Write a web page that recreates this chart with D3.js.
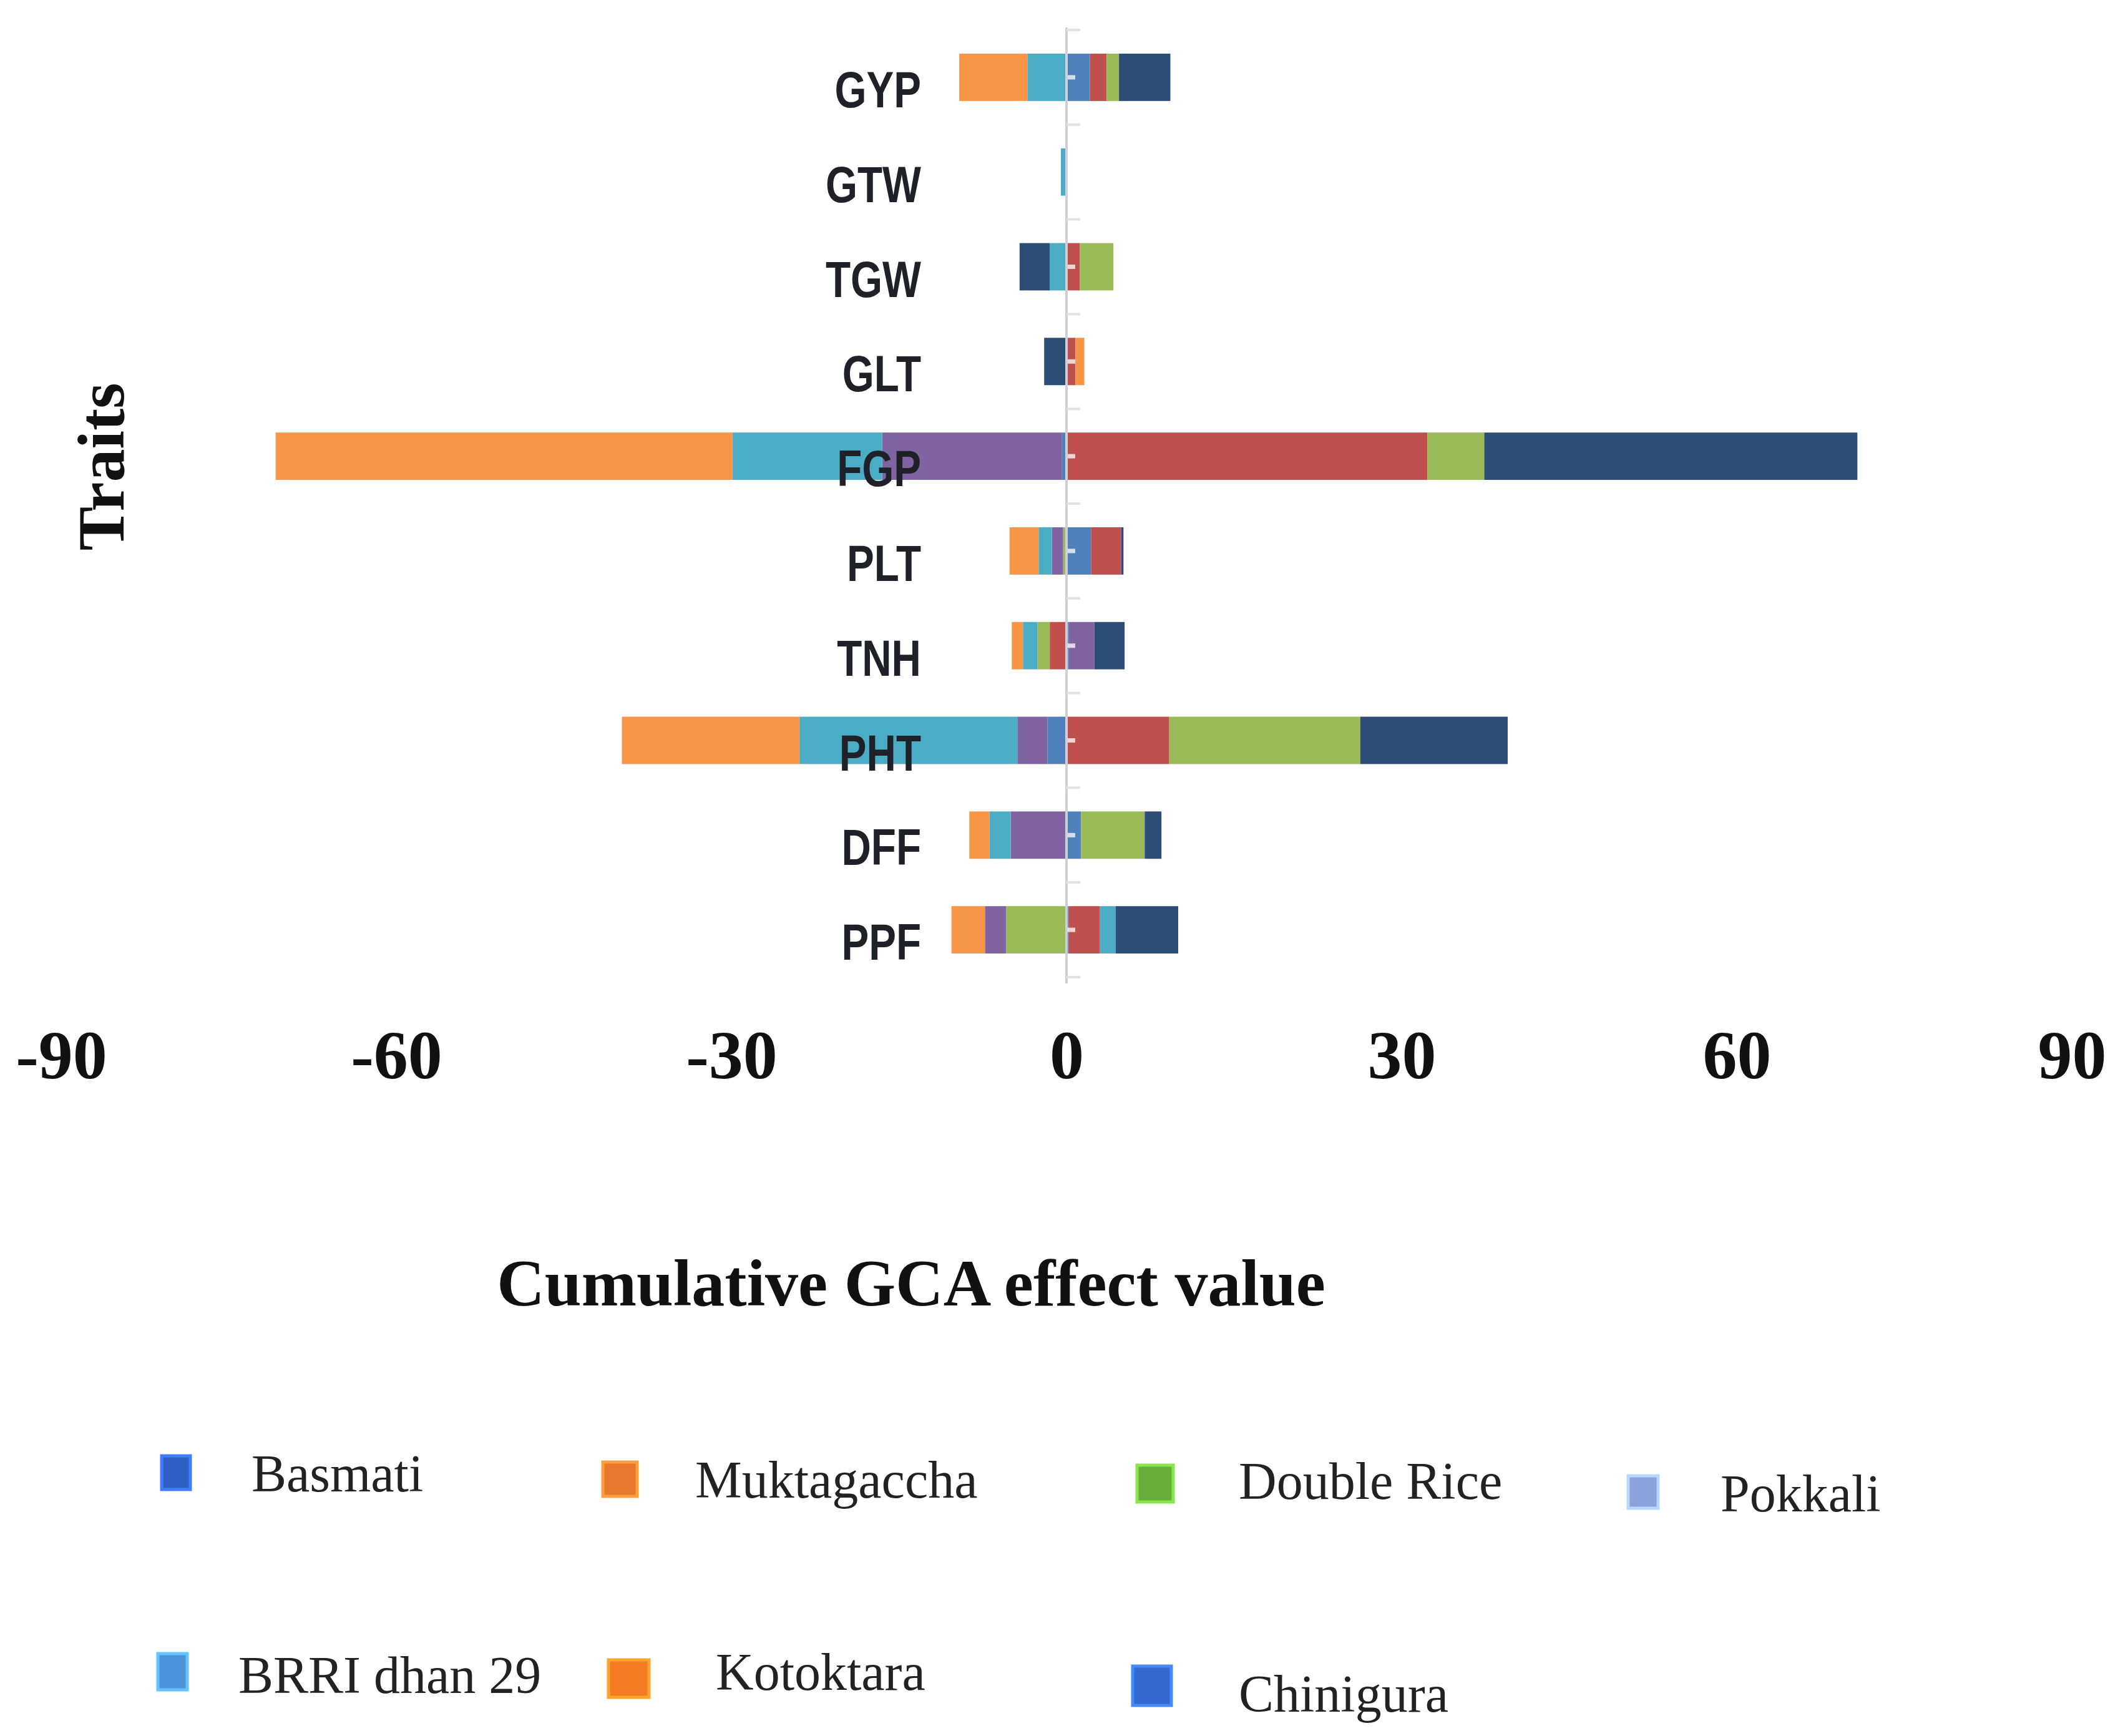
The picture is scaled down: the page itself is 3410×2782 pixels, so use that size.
<!DOCTYPE html>
<html>
<head>
<meta charset="utf-8">
<script src="https://cdn.jsdelivr.net/npm/d3@7/dist/d3.min.js"></script>
<style>
  html, body { margin: 0; padding: 0; background: #ffffff; }
  svg { display: block; }
</style>
</head>
<body>
<svg id="chart" width="3410" height="2782"></svg>
<script>
// ---------------- DATA ----------------
const traits = ["GYP", "GTW", "TGW", "GLT", "FGP", "PLT", "TNH", "PHT", "DFF", "PPF"];
const seriesNames = ["Basmati", "Muktagaccha", "Double Rice", "Pokkali", "BRRI dhan 29", "Kotoktara", "Chinigura"];
//                 GYP   GTW   TGW   GLT   FGP    PLT   TNH   PHT    DFF   PPF
const basmati     = [2.1,  0,    0,    0,    -0.4,  2.2,  0.2,  -1.7,  1.3,  0.2];
const muktagaccha = [1.5,  0,    1.2,  0.8,  32.3,  2.7,  -1.5, 9.2,   0,    2.8];
const doubleRice  = [1.1,  0,    3.0,  0,    5.1,   -0.3, -1.1, 17.1,  5.7,  -5.4];
const pokkali     = [0,    0,    0,    0,    -16.1, -1.0, 2.3,  -2.7,  -5.0, -1.9];
const brriDhan29  = [-3.5, -0.5, -1.5, 0,    -13.4, -1.2, -1.3, -19.5, -1.9, 1.4];
const kotoktara   = [-6.1, 0,    0,    0.8,  -40.9, -2.6, -1.0, -15.9, -1.8, -3.0];
const chinigura   = [4.6,  0,    -2.7, -2.0, 33.4,  0.2,  2.7,  13.2,  1.5,  5.6];
const xTicks = [-90, -60, -30, 0, 30, 60, 90];

// ---------------- STYLE ----------------
const barColors    = ["#4F81BD", "#C0504D", "#9BBB59", "#8064A2", "#4BACC6", "#F79646", "#2C4D75"];
const legendColors = ["#2F5FC4", "#E8772E", "#66AD3A", "#8CA2DC", "#4C93DA", "#F47B22", "#3468CC"];
// legend layout (marker box + label anchor), as in the reference picture
const legendLayout = [
  {mx: 259,  my: 2333, mw: 46, mh: 54, tx: 403,  ty: 2390},
  {mx: 966,  my: 2343, mw: 55, mh: 55, tx: 1114, ty: 2400},
  {mx: 1822, my: 2348, mw: 58, mh: 59, tx: 1985, ty: 2402},
  {mx: 2609, my: 2365, mw: 48, mh: 52, tx: 2757, ty: 2422},
  {mx: 253,  my: 2650, mw: 47, mh: 58, tx: 382,  ty: 2713},
  {mx: 975,  my: 2660, mw: 65, mh: 60, tx: 1147, ty: 2708},
  {mx: 1815, my: 2670, mw: 62, mh: 63, tx: 1985, ty: 2743}
];

// ---------------- BUILD ----------------
const seriesValues = [basmati, muktagaccha, doubleRice, pokkali, brriDhan29, kotoktara, chinigura];
const table = traits.map((t, i) => {
  const row = {trait: t};
  seriesNames.forEach((s, j) => row[s] = seriesValues[j][i]);
  return row;
});

const svg = d3.select("#chart");
svg.append("rect").attr("width", 3410).attr("height", 2782).attr("fill", "#ffffff");

const x = d3.scaleLinear().domain([-90, 90]).range([98, 3320]);
const y = d3.scaleBand().domain(traits).range([48, 1566]).paddingInner(0.5).paddingOuter(0.25);

const stack = d3.stack().keys(seriesNames).order(d3.stackOrderNone).offset(d3.stackOffsetDiverging);
const stacked = stack(table);

// bars
const g = svg.append("g");
g.selectAll("g.series").data(stacked).join("g")
  .attr("class", "series")
  .attr("fill", (d, i) => barColors[i])
  .selectAll("rect").data(d => d).join("rect")
  .attr("x", d => x(Math.min(d[0], d[1])))
  .attr("width", d => Math.abs(x(d[1]) - x(d[0])))
  .attr("y", d => y(d.data.trait))
  .attr("height", y.bandwidth());

// vertical zero axis line with category ticks
const x0 = x(0);
const axisG = svg.append("g");
axisG.append("line")
  .attr("x1", x0).attr("x2", x0)
  .attr("y1", 44).attr("y2", 1576)
  .attr("stroke", "#CFCFD6").attr("stroke-width", 4);
const boundaries = traits.slice(1).map(t => y(t) - (y.step() - y.bandwidth()) / 2);
boundaries.push(48, 1566);
axisG.selectAll("line.tick").data(boundaries).join("line")
  .attr("class", "tick")
  .attr("x1", x0).attr("x2", x0 + 22)
  .attr("y1", d => d).attr("y2", d => d)
  .attr("stroke", "#E2E2E6").attr("stroke-width", 4);
axisG.selectAll("line.ctick").data(traits).join("line")
  .attr("class", "ctick")
  .attr("x1", x0 + 2).attr("x2", x0 + 14)
  .attr("y1", d => y(d) + y.bandwidth() / 2).attr("y2", d => y(d) + y.bandwidth() / 2)
  .attr("stroke", "rgba(255,255,255,0.75)").attr("stroke-width", 7);

// category labels (bold, condensed)
svg.append("g").selectAll("text").data(traits).join("text")
  .attr("transform", d => `translate(1476,${y(d) + y.bandwidth() / 2 + 48}) scale(0.8,1)`)
  .attr("text-anchor", "end")
  .attr("font-family", "'Liberation Sans', Arial, sans-serif")
  .attr("font-weight", "bold")
  .attr("font-size", 82)
  .attr("fill", "#1E2228")
  .text(d => d);

// x tick labels
const xAxis = d3.axisBottom(x).tickValues(xTicks).tickSize(0).tickFormat(d3.format("d"));
const xg = svg.append("g").attr("transform", "translate(0,0)").call(xAxis);
xg.select(".domain").remove();
xg.selectAll("text")
  .attr("y", 1728).attr("dy", 0)
  .attr("font-family", "'Liberation Serif', 'Times New Roman', serif")
  .attr("font-weight", "bold")
  .attr("font-size", 110)
  .attr("fill", "#111111")
  .text(d => d < 0 ? "-" + Math.abs(d) : String(d));

// axis titles
svg.append("text")
  .attr("x", 1460).attr("y", 2092)
  .attr("text-anchor", "middle")
  .attr("font-family", "'Liberation Serif', 'Times New Roman', serif")
  .attr("font-weight", "bold")
  .attr("font-size", 106)
  .attr("fill", "#111111")
  .text("Cumulative GCA effect value");

svg.append("text")
  .attr("transform", "translate(198,748) rotate(-90)")
  .attr("text-anchor", "middle")
  .attr("font-family", "'Liberation Serif', 'Times New Roman', serif")
  .attr("font-weight", "bold")
  .attr("font-size", 106)
  .attr("fill", "#111111")
  .text("Traits");

// legend
const lg = svg.append("g");
const items = lg.selectAll("g").data(seriesNames).join("g");
items.append("rect")
  .attr("x", (d, i) => legendLayout[i].mx)
  .attr("y", (d, i) => legendLayout[i].my)
  .attr("width", (d, i) => legendLayout[i].mw)
  .attr("height", (d, i) => legendLayout[i].mh)
  .attr("fill", (d, i) => legendColors[i])
  .attr("stroke", (d, i) => d3.color(legendColors[i]).brighter(0.8))
  .attr("stroke-width", 5);
items.append("text")
  .attr("x", (d, i) => legendLayout[i].tx)
  .attr("y", (d, i) => legendLayout[i].ty)
  .attr("font-family", "'Liberation Serif', 'Times New Roman', serif")
  .attr("font-size", 84)
  .attr("fill", "#222222")
  .text(d => d);
</script>
</body>
</html>
